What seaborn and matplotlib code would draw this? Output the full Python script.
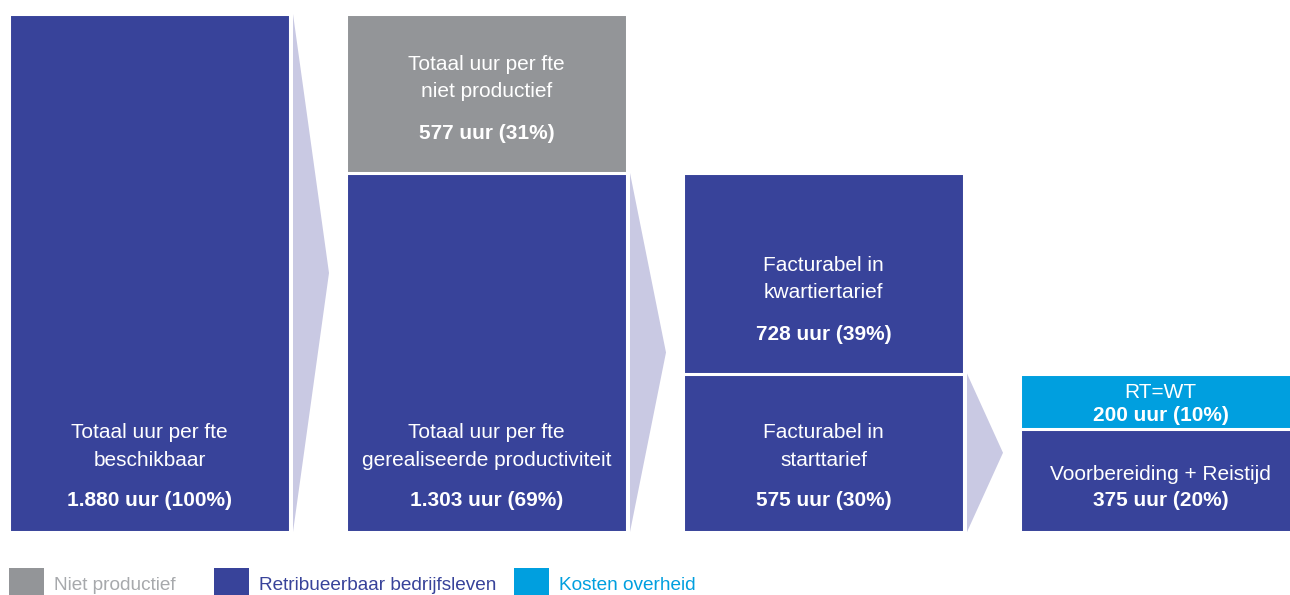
import matplotlib
matplotlib.use("Agg")
import matplotlib.pyplot as plt
from matplotlib.patches import Rectangle
import seaborn as sns
import pandas as pd

# ---------------- data ----------------
columns = ["Beschikbaar", "Productiviteit", "Facturabel", "Overheid"]
seg_column = ["Beschikbaar", "Productiviteit", "Productiviteit",
              "Facturabel", "Facturabel", "Overheid", "Overheid"]
seg_type = ["Retribueerbaar bedrijfsleven", "Retribueerbaar bedrijfsleven", "Niet productief",
            "Retribueerbaar bedrijfsleven", "Retribueerbaar bedrijfsleven",
            "Retribueerbaar bedrijfsleven", "Kosten overheid"]
seg_hours = [1880, 1303, 577, 575, 728, 375, 200]
seg_pct = [100, 69, 31, 30, 39, 20, 10]
seg_label = ["Totaal uur per fte\nbeschikbaar",
             "Totaal uur per fte\ngerealiseerde productiviteit",
             "Totaal uur per fte\nniet productief",
             "Facturabel in\nstarttarief",
             "Facturabel in\nkwartiertarief",
             "Voorbereiding + Reistijd",
             "RT=WT"]
legend_labels = ["Niet productief", "Retribueerbaar bedrijfsleven", "Kosten overheid"]

colors = {"Niet productief": "#939598",
          "Retribueerbaar bedrijfsleven": "#38439A",
          "Kosten overheid": "#009FDF"}
legend_text_colors = ["#A7A9AC", "#38439A", "#009FDF"]
arrow_color = "#C9C9E3"

# ---------------- build stacked table ----------------
df = pd.DataFrame({"kolom": seg_column, "soort": seg_type, "uren": seg_hours,
                   "pct": seg_pct, "label": seg_label})
df["bottom"] = df.groupby("kolom")["uren"].cumsum() - df["uren"]
df["top"] = df["bottom"] + df["uren"]
df["layer"] = df.groupby("kolom").cumcount()

sns.set_style("white")
plt.rcParams["font.family"] = ["Liberation Sans", "DejaVu Sans"]

W, H = 1290, 595
fig = plt.figure(figsize=(W / 100, H / 100), dpi=100)
pitch = 337.0
bw = 281.0 / pitch
ax = fig.add_axes([9 / W, 63 / H, (W - 9) / W, 518 / H])

# draw layers from top (cumulative) down so lower segments overlay
for layer in sorted(df["layer"].unique(), reverse=True):
    sub = df[df["layer"] == layer]
    sns.barplot(data=sub, x="kolom", y="top", hue="soort", palette=colors,
                order=columns, hue_order=list(colors.keys()), dodge=False,
                width=bw, saturation=1, legend=False, edgecolor="white",
                linewidth=2.2, ax=ax)

ax.set_xlim(-bw / 2, -bw / 2 + (W - 9) / pitch)
ax.set_ylim(0, 1880)
ax.axis("off")

# chevron arrows between columns
totals = df.groupby("kolom")["uren"].sum().reindex(columns).values
for i in range(len(columns) - 1):
    x0 = i + bw / 2 + 3 / pitch
    xt = i + bw / 2 + 39 / pitch
    ytop = totals[i + 1]
    ax.fill([x0, xt, x0], [0, ytop / 2, ytop], color=arrow_color, lw=0, zorder=1)

# texts
px = 0.72
light = dict(color="white", fontsize=15, fontweight="normal", ha="center", va="center")
bold = dict(color="white", fontsize=15, fontweight="bold", ha="center", va="center")
for _, r in df.iterrows():
    ci = columns.index(r["kolom"])
    num = f"{r['uren']:,}".replace(",", ".") + f" uur ({r['pct']}%)"
    lines = r["label"].split("\n")
    if r["kolom"] == "Overheid":
        offs = (58, 32) if r["layer"] == 0 else (36, 13)
        ax.annotate(lines[0], (ci, r["bottom"]), xytext=(0, offs[0] * px),
                    textcoords="offset points", **light)
        ax.annotate(num, (ci, r["bottom"]), xytext=(0, offs[1] * px),
                    textcoords="offset points", **bold)
    else:
        offs = (100, 72, 32) if r["layer"] == 0 else (108, 81, 39)
        for ln, o in zip(lines, offs[:2]):
            ax.annotate(ln, (ci, r["bottom"]), xytext=(0, o * px),
                        textcoords="offset points", **light)
        ax.annotate(num, (ci, r["bottom"]), xytext=(0, offs[2] * px),
                    textcoords="offset points", **bold)

# legend
leg_x = [9, 214, 514]
for lx, lab, tc in zip(leg_x, legend_labels, legend_text_colors):
    fig.add_artist(Rectangle((lx / W, (H - 603) / H), 35 / W, 35 / H,
                             transform=fig.transFigure, color=colors[lab], lw=0))
    fig.text((lx + 45) / W, 9 / H, lab, color=tc, fontsize=13.7,
             fontweight="normal", ha="left", va="center")

fig.savefig("out.png", dpi=100)
